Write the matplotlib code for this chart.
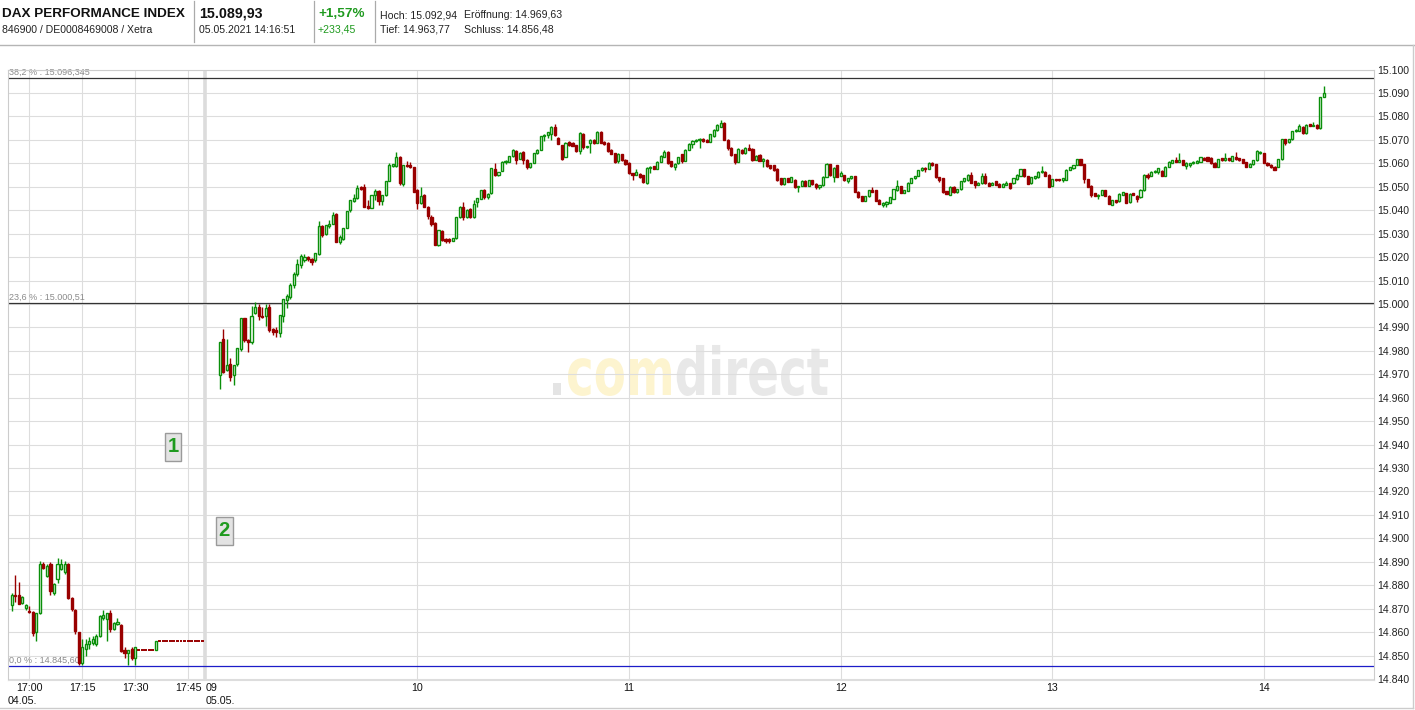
import matplotlib
matplotlib.use("Agg")
import matplotlib.pyplot as plt
import numpy as np
from matplotlib.patches import Rectangle, PathPatch
from matplotlib.textpath import TextPath, text_to_path
from matplotlib.font_manager import FontProperties
from matplotlib.transforms import Affine2D, blended_transform_factory
from matplotlib.lines import Line2D

plt.rcParams['font.family'] = ['Liberation Sans', 'DejaVu Sans']

# ---------------------------------------------------------------- data
# 04.05. : one-minute candles, minute relative to 17:00
d1_minute = list(range(-5, 50))
d1_open = [14871.5, 14876.0, 14876.0, 14872.5, 14870.5, 14869.0, 14868.5, 14860.0, 14868.0, 14889.0,
           14884.0, 14889.0, 14876.5, 14882.5, 14887.0, 14885.5, 14889.0, 14874.5, 14869.5, 14860.0,
           14847.0, 14853.0, 14855.0, 14855.5, 14855.0, 14858.5, 14866.0, 14865.5, 14868.0, 14861.5,
           14863.5, 14863.0, 14852.5, 14851.0, 14853.0, 14849.0,
           14852.3, 14852.3, 14852.3, 14852.3, 14852.3, 14852.3,
           14856.2, 14856.2, 14856.2, 14856.2, 14856.2, 14856.2, 14856.2, 14856.2, 14856.2, 14856.2,
           14856.2, 14856.2, 14856.2]
d1_high = [14876.5, 14884.5, 14881.5, 14875.2, 14872.2, 14871.0, 14869.0, 14868.2, 14890.5, 14890.0,
           14889.0, 14890.0, 14881.0, 14891.5, 14891.0, 14890.5, 14889.5, 14875.0, 14870.0, 14860.2,
           14857.0, 14857.0, 14858.0, 14858.5, 14859.0, 14867.5, 14869.5, 14868.2, 14869.5, 14864.2,
           14866.0, 14863.5, 14853.5, 14852.5, 14853.5, 14853.5,
           14852.3, 14852.3, 14852.3, 14852.3, 14852.3, 14856.2,
           14856.2, 14856.2, 14856.2, 14856.2, 14856.2, 14856.2, 14856.2, 14856.2, 14856.2, 14856.2,
           14856.2, 14856.2, 14856.2]
d1_low = [14869.0, 14873.0, 14871.8, 14872.0, 14869.4, 14868.0, 14858.3, 14856.0, 14867.8, 14887.0,
          14883.5, 14876.0, 14876.0, 14881.0, 14886.5, 14885.0, 14874.0, 14869.0, 14859.0, 14846.0,
          14846.0, 14850.0, 14853.0, 14854.5, 14854.0, 14858.0, 14865.0, 14856.0, 14860.0, 14861.0,
          14863.0, 14851.5, 14849.0, 14846.0, 14848.0, 14846.0,
          14852.3, 14852.3, 14852.3, 14852.3, 14852.3, 14852.3,
          14856.2, 14856.2, 14856.2, 14856.2, 14856.2, 14856.2, 14856.2, 14856.2, 14856.2, 14856.2,
          14856.2, 14856.2, 14856.2]
d1_close = [14876.0, 14875.5, 14872.0, 14875.0, 14871.5, 14868.5, 14859.5, 14868.0, 14889.0, 14887.5,
            14888.0, 14877.5, 14880.5, 14889.0, 14889.0, 14889.0, 14874.5, 14870.0, 14860.5, 14847.0,
            14853.5, 14855.0, 14856.0, 14857.0, 14858.5, 14867.0, 14867.5, 14868.0, 14861.5, 14864.0,
            14864.5, 14852.0, 14851.0, 14852.5, 14849.0, 14853.5,
            14852.3, 14852.3, 14852.3, 14852.3, 14852.3, 14856.2,
            14856.2, 14856.2, 14856.2, 14856.2, 14856.2, 14856.2, 14856.2, 14856.2, 14856.2, 14856.2,
            14856.2, 14856.2, 14856.2]

# 05.05. : one-minute candles from 09:04 to 14:17 (minute after 09:00)
d2_first_minute = 4
d2_open = [
    14969.6, 14985.0, 14972.0, 14974.3, 14969.6, 14974.3, 14981.0, 14993.9, 14984.6, 14983.9,
    14996.0, 14998.6, 14995.0, 14994.7, 14998.6, 14989.3, 14988.9, 14987.6, 14994.7, 15001.9,
    15003.0, 15008.0, 15013.0, 15016.5, 15018.6, 15020.0, 15019.0, 15018.6, 15021.4, 15033.1,
    15029.7, 15033.1, 15034.3, 15038.3, 15026.4, 15027.9, 15032.6, 15040.0, 15044.0, 15045.4,
    15049.7, 15049.7, 15041.7, 15041.1, 15046.4, 15048.3, 15044.0, 15046.4, 15052.6, 15059.0,
    15059.0, 15062.9, 15051.1, 15059.3, 15059.3, 15058.3, 15048.6, 15043.1, 15046.4, 15041.4,
    15037.1, 15034.6, 15025.0, 15031.1, 15027.9, 15027.9, 15027.0, 15028.1, 15037.1, 15041.4,
    15037.1, 15040.7, 15036.9, 15043.7, 15045.0, 15048.6, 15045.5, 15047.2, 15057.8, 15055.0,
    15056.8, 15060.6, 15060.6, 15063.0, 15065.2, 15062.0, 15064.9, 15061.6, 15058.5, 15060.2,
    15064.4, 15065.9, 15071.5, 15072.3, 15072.6, 15075.5, 15071.0, 15067.7, 15062.7, 15069.1,
    15068.7, 15067.7, 15065.3, 15072.6, 15067.0, 15068.7, 15070.0, 15068.7, 15073.4, 15069.1,
    15068.7, 15065.6, 15064.4, 15061.0, 15063.9, 15061.6, 15060.2, 15055.7, 15055.2, 15055.6,
    15055.0, 15051.7, 15058.2, 15058.8, 15057.8, 15060.6, 15062.7, 15064.9, 15061.0, 15058.5,
    15060.0, 15064.0, 15061.0, 15065.9, 15068.4, 15069.5, 15069.8, 15070.5, 15070.0, 15069.1,
    15071.5, 15074.3, 15075.5, 15077.3, 15070.0, 15066.7, 15063.9, 15060.6, 15065.9, 15064.4,
    15066.7, 15066.3, 15061.6, 15063.5, 15061.0, 15061.6, 15059.2, 15059.2, 15057.8, 15053.6,
    15051.1, 15053.6, 15052.1, 15053.1, 15049.7, 15050.4, 15052.5, 15050.4, 15052.9, 15051.4,
    15049.7, 15050.7, 15054.3, 15059.6, 15054.3, 15059.2, 15054.6, 15055.0, 15052.5, 15053.6,
    15054.6, 15047.9, 15046.0, 15044.0, 15046.0, 15048.6, 15048.6, 15044.4, 15042.2, 15042.7,
    15043.2, 15045.0, 15048.6, 15050.3, 15047.5, 15048.3, 15051.7, 15053.6, 15054.6, 15057.1,
    15058.2, 15057.8, 15060.2, 15059.6, 15054.0, 15053.7, 15048.0, 15046.6, 15050.1, 15047.6,
    15049.0, 15052.3, 15052.7, 15055.1, 15052.3, 15050.8, 15051.5, 15054.4, 15051.8, 15050.8,
    15052.3, 15051.3, 15050.1, 15050.8, 15051.5, 15051.5, 15053.2, 15054.6, 15057.5, 15054.6,
    15051.5, 15053.7, 15054.1, 15056.1, 15056.5, 15055.1, 15050.4, 15053.2, 15053.2, 15052.7,
    15053.0, 15057.2, 15058.0, 15059.3, 15061.7, 15059.7, 15053.2, 15050.4, 15047.3, 15046.2,
    15046.6, 15048.5, 15046.2, 15042.4, 15044.2, 15043.8, 15046.6, 15047.3, 15043.4, 15047.3,
    15046.2, 15045.5, 15048.5, 15055.1, 15054.6, 15056.1, 15056.5, 15056.9, 15054.6, 15058.6,
    15060.3, 15061.4, 15060.7, 15061.4, 15059.0, 15059.3, 15060.0, 15060.3, 15060.7, 15062.3,
    15062.6, 15062.3, 15060.3, 15058.6, 15062.1, 15061.4, 15062.1, 15061.1, 15062.6, 15062.1,
    15061.7, 15060.5, 15058.6, 15059.7, 15061.4, 15064.4, 15064.4, 15060.3, 15059.4, 15058.6,
    15058.6, 15061.7, 15070.3, 15068.9, 15070.3, 15073.6, 15074.0, 15075.7, 15072.9, 15076.7,
    15076.0, 15076.4, 15075.0, 15088.3]
d2_high = [
    14983.6, 14989.3, 14985.0, 14977.0, 14974.0, 14981.4, 14994.0, 14994.0, 14985.0, 14999.0,
    15000.7, 15000.0, 14998.6, 15000.0, 15000.0, 14989.6, 14990.0, 14995.3, 15002.1, 15004.1,
    15009.0, 15013.5, 15019.0, 15021.5, 15021.5, 15020.5, 15019.5, 15021.7, 15035.3, 15033.5,
    15033.6, 15036.0, 15039.3, 15039.0, 15029.3, 15032.6, 15039.7, 15044.3, 15047.0, 15050.7,
    15050.3, 15051.4, 15044.3, 15046.4, 15048.9, 15048.5, 15046.4, 15052.6, 15060.0, 15059.9,
    15065.0, 15063.0, 15059.3, 15061.0, 15060.7, 15058.6, 15049.0, 15050.0, 15047.1, 15041.6,
    15038.0, 15035.0, 15031.4, 15031.7, 15028.2, 15028.2, 15028.3, 15037.1, 15041.6, 15043.6,
    15040.5, 15041.0, 15044.3, 15045.3, 15048.8, 15049.0, 15047.5, 15058.2, 15060.0, 15056.5,
    15061.0, 15061.5, 15063.2, 15066.0, 15065.5, 15064.8, 15065.2, 15061.8, 15060.2, 15064.6,
    15066.1, 15071.8, 15072.5, 15073.5, 15075.8, 15076.9, 15071.3, 15068.0, 15068.9, 15069.5,
    15069.0, 15068.0, 15073.2, 15072.9, 15067.6, 15070.3, 15070.3, 15073.6, 15073.7, 15069.4,
    15069.0, 15066.3, 15064.6, 15064.5, 15064.1, 15061.8, 15060.4, 15055.9, 15057.8, 15055.8,
    15055.2, 15058.4, 15058.8, 15059.0, 15060.8, 15063.6, 15065.6, 15065.1, 15061.2, 15060.1,
    15062.7, 15064.2, 15066.1, 15068.6, 15070.0, 15070.3, 15070.8, 15070.8, 15070.2, 15072.6,
    15074.5, 15077.0, 15078.3, 15077.5, 15070.2, 15066.9, 15064.1, 15066.5, 15066.1, 15066.9,
    15068.4, 15066.5, 15063.4, 15064.2, 15062.2, 15061.8, 15059.4, 15059.4, 15058.0, 15053.8,
    15053.8, 15053.8, 15054.2, 15053.3, 15050.5, 15052.7, 15052.7, 15053.1, 15053.1, 15051.6,
    15050.9, 15054.5, 15060.3, 15059.8, 15058.4, 15059.4, 15056.6, 15055.2, 15053.8, 15054.8,
    15054.8, 15048.1, 15046.2, 15046.2, 15048.8, 15050.0, 15048.8, 15044.6, 15043.4, 15043.8,
    15045.7, 15049.1, 15053.0, 15050.5, 15048.8, 15051.9, 15053.8, 15054.8, 15057.3, 15058.4,
    15058.4, 15060.4, 15060.6, 15059.8, 15054.2, 15053.9, 15048.2, 15050.3, 15050.3, 15049.2,
    15052.5, 15053.9, 15055.3, 15056.5, 15052.5, 15052.0, 15055.8, 15055.8, 15052.0, 15052.0,
    15052.5, 15051.5, 15051.5, 15052.3, 15051.7, 15053.9, 15055.3, 15057.7, 15057.7, 15054.8,
    15054.3, 15054.6, 15056.7, 15058.7, 15056.7, 15055.3, 15053.4, 15053.4, 15053.4, 15053.9,
    15057.4, 15058.5, 15059.5, 15061.9, 15061.9, 15059.9, 15053.4, 15050.6, 15047.5, 15046.8,
    15048.7, 15048.7, 15046.4, 15044.4, 15044.4, 15047.2, 15047.8, 15047.5, 15047.2, 15047.5,
    15046.4, 15048.9, 15055.3, 15055.8, 15056.7, 15057.1, 15058.1, 15057.1, 15058.8, 15060.9,
    15061.6, 15062.5, 15064.3, 15061.6, 15060.5, 15060.3, 15061.0, 15061.4, 15062.9, 15062.5,
    15062.8, 15062.5, 15060.5, 15061.9, 15062.3, 15064.3, 15062.3, 15063.2, 15064.8, 15062.3,
    15061.9, 15060.7, 15060.0, 15061.6, 15065.5, 15065.2, 15064.6, 15060.5, 15059.6, 15058.8,
    15061.9, 15070.5, 15070.5, 15070.5, 15073.8, 15074.5, 15077.0, 15075.9, 15076.6, 15076.9,
    15077.7, 15076.6, 15088.5, 15092.9]
d2_low = [
    14963.8, 14970.5, 14971.5, 14967.0, 14965.3, 14973.5, 14980.0, 14983.6, 14979.6, 14983.0,
    14995.7, 14993.3, 14993.9, 14990.7, 14987.9, 14986.7, 14986.0, 14986.0, 14992.4, 14998.3,
    15002.0, 15007.0, 15012.0, 15015.5, 15018.0, 15018.5, 15016.5, 15018.0, 15021.0, 15028.6,
    15029.5, 15032.6, 15034.0, 15026.4, 15025.7, 15027.5, 15032.5, 15039.3, 15043.5, 15045.0,
    15048.6, 15041.4, 15040.7, 15041.0, 15044.3, 15042.1, 15042.4, 15046.0, 15052.4, 15058.6,
    15058.6, 15050.7, 15050.3, 15058.6, 15058.0, 15047.9, 15040.7, 15042.8, 15041.4, 15036.4,
    15033.4, 15025.0, 15024.6, 15026.9, 15026.0, 15026.0, 15026.7, 15027.8, 15036.8, 15036.0,
    15036.8, 15036.6, 15036.6, 15041.2, 15044.8, 15045.0, 15045.0, 15047.0, 15054.6, 15054.7,
    15056.6, 15059.8, 15060.4, 15062.8, 15059.8, 15061.7, 15059.8, 15057.8, 15058.0, 15060.0,
    15064.2, 15065.6, 15069.4, 15071.0, 15069.8, 15071.7, 15068.2, 15061.3, 15062.5, 15067.5,
    15067.2, 15065.0, 15064.2, 15066.3, 15066.6, 15064.5, 15068.4, 15068.5, 15068.5, 15068.0,
    15065.0, 15064.0, 15060.3, 15060.2, 15061.0, 15059.4, 15055.4, 15053.0, 15055.0, 15053.8,
    15051.8, 15051.3, 15056.0, 15057.4, 15057.6, 15060.4, 15062.5, 15059.8, 15058.6, 15057.2,
    15059.8, 15060.0, 15060.8, 15065.7, 15066.5, 15069.0, 15066.5, 15069.2, 15068.9, 15068.9,
    15071.2, 15074.0, 15075.3, 15070.0, 15065.9, 15063.3, 15059.9, 15060.4, 15064.2, 15064.2,
    15065.7, 15061.1, 15061.4, 15060.8, 15058.5, 15058.6, 15057.6, 15056.9, 15052.6, 15050.9,
    15050.9, 15051.9, 15051.9, 15049.5, 15047.8, 15050.2, 15050.2, 15050.2, 15050.9, 15049.0,
    15049.0, 15050.5, 15054.1, 15054.8, 15052.0, 15054.1, 15054.4, 15052.6, 15051.6, 15053.4,
    15047.7, 15045.3, 15043.8, 15043.8, 15045.8, 15047.7, 15043.8, 15042.5, 15041.5, 15041.5,
    15043.0, 15044.8, 15048.4, 15047.3, 15047.3, 15048.1, 15051.5, 15053.4, 15054.4, 15056.9,
    15056.2, 15057.6, 15059.0, 15053.8, 15052.0, 15047.4, 15046.8, 15046.4, 15047.4, 15047.4,
    15048.8, 15052.1, 15052.5, 15051.6, 15049.4, 15050.6, 15051.3, 15051.3, 15050.2, 15050.6,
    15050.6, 15049.9, 15049.9, 15050.6, 15049.2, 15051.3, 15053.0, 15054.4, 15054.2, 15051.1,
    15051.3, 15053.5, 15053.9, 15055.9, 15054.4, 15049.9, 15050.2, 15052.5, 15052.5, 15052.1,
    15052.8, 15057.0, 15057.8, 15059.1, 15059.1, 15051.8, 15049.9, 15045.6, 15046.0, 15044.8,
    15046.4, 15046.0, 15042.6, 15042.2, 15043.2, 15043.6, 15046.4, 15042.9, 15043.2, 15046.4,
    15043.4, 15045.3, 15048.3, 15053.4, 15054.4, 15055.9, 15055.5, 15054.4, 15054.4, 15058.4,
    15060.1, 15060.5, 15060.5, 15059.1, 15057.5, 15058.3, 15059.8, 15060.1, 15060.5, 15061.4,
    15060.9, 15059.7, 15058.3, 15058.4, 15061.1, 15061.2, 15061.1, 15060.9, 15061.5, 15061.1,
    15060.0, 15058.3, 15058.4, 15059.5, 15061.2, 15064.2, 15060.1, 15059.0, 15058.1, 15057.0,
    15058.4, 15061.5, 15068.0, 15068.7, 15070.1, 15073.4, 15073.8, 15072.7, 15072.7, 15075.8,
    15075.8, 15074.6, 15074.6, 15088.1]
d2_close = [
    14983.6, 14971.0, 14974.0, 14969.0, 14973.9, 14981.4, 14993.9, 14984.7, 14983.6, 14994.7,
    14998.6, 14994.7, 14994.3, 14998.3, 14989.0, 14988.1, 14988.1, 14995.3, 15002.1, 15003.3,
    15008.0, 15013.0, 15017.0, 15020.5, 15020.0, 15019.0, 15018.0, 15021.7, 15033.1, 15029.3,
    15033.6, 15034.3, 15037.9, 15026.4, 15028.6, 15032.6, 15039.7, 15044.3, 15045.4, 15049.3,
    15048.9, 15041.4, 15041.0, 15046.4, 15048.3, 15044.0, 15046.4, 15052.6, 15059.3, 15059.7,
    15062.9, 15051.7, 15059.3, 15058.9, 15058.3, 15047.9, 15043.1, 15046.0, 15041.4, 15037.4,
    15034.3, 15025.0, 15031.4, 15027.4, 15026.9, 15026.9, 15028.0, 15037.1, 15041.4, 15037.1,
    15040.3, 15036.9, 15042.6, 15045.1, 15048.6, 15045.5, 15047.0, 15058.2, 15055.0, 15056.2,
    15060.6, 15061.2, 15063.0, 15065.6, 15061.3, 15064.4, 15061.6, 15058.5, 15060.0, 15064.4,
    15065.9, 15071.5, 15072.3, 15073.3, 15075.5, 15071.9, 15068.4, 15062.0, 15068.7, 15067.7,
    15067.4, 15065.3, 15072.9, 15067.0, 15067.4, 15070.1, 15068.7, 15073.4, 15068.7, 15068.4,
    15065.3, 15064.2, 15060.6, 15063.9, 15061.3, 15059.6, 15055.7, 15055.0, 15056.3, 15054.0,
    15052.1, 15058.2, 15058.5, 15057.6, 15060.6, 15063.0, 15064.9, 15060.2, 15058.8, 15059.9,
    15062.5, 15061.0, 15065.9, 15068.4, 15069.5, 15069.8, 15070.5, 15069.5, 15069.1, 15072.4,
    15074.3, 15076.2, 15077.3, 15070.0, 15066.7, 15063.5, 15060.6, 15066.3, 15064.4, 15066.7,
    15065.9, 15061.3, 15063.2, 15061.0, 15062.0, 15058.8, 15058.2, 15057.1, 15052.8, 15051.1,
    15053.6, 15052.1, 15054.0, 15049.7, 15050.3, 15052.5, 15050.4, 15052.9, 15051.1, 15049.7,
    15050.7, 15054.3, 15059.6, 15055.0, 15058.2, 15054.3, 15055.7, 15052.8, 15053.6, 15054.6,
    15047.9, 15045.5, 15044.0, 15046.0, 15048.6, 15047.9, 15044.0, 15042.7, 15043.0, 15043.6,
    15045.5, 15048.9, 15050.3, 15047.5, 15048.6, 15051.7, 15053.6, 15054.6, 15057.1, 15058.2,
    15057.8, 15060.2, 15059.2, 15054.0, 15053.0, 15047.6, 15047.0, 15050.1, 15047.6, 15049.0,
    15052.3, 15053.7, 15055.1, 15051.8, 15050.8, 15051.8, 15054.4, 15051.5, 15050.4, 15051.8,
    15050.8, 15050.1, 15051.3, 15051.8, 15049.4, 15053.7, 15055.1, 15057.5, 15054.4, 15051.3,
    15054.1, 15054.4, 15056.5, 15056.9, 15054.6, 15050.1, 15053.2, 15052.7, 15052.7, 15053.7,
    15057.2, 15058.3, 15059.3, 15061.7, 15059.3, 15053.2, 15050.1, 15046.6, 15046.2, 15046.6,
    15048.5, 15046.2, 15042.8, 15044.2, 15043.4, 15047.0, 15047.6, 15043.1, 15047.0, 15046.6,
    15044.8, 15048.7, 15055.1, 15054.1, 15056.5, 15056.9, 15057.9, 15054.6, 15058.6, 15060.7,
    15061.4, 15060.7, 15061.4, 15059.3, 15060.0, 15060.3, 15060.7, 15061.1, 15062.6, 15061.6,
    15061.1, 15060.0, 15058.6, 15061.7, 15061.4, 15062.1, 15061.4, 15063.0, 15061.7, 15061.4,
    15060.3, 15058.6, 15059.7, 15061.4, 15065.3, 15065.0, 15060.3, 15059.1, 15058.4, 15057.1,
    15061.7, 15070.3, 15068.6, 15070.3, 15073.6, 15074.3, 15075.9, 15072.9, 15076.4, 15076.0,
    15076.4, 15075.0, 15088.3, 15089.9]

y_ticks = list(range(14840, 15101, 10))
fib_levels = [15096.345, 15000.51, 14845.60]
fib_labels = ["38,2 % : 15.096,345", "23,6 % : 15.000,51", "0,0 % : 14.845,60"]
d1_tick_minutes = [0, 15, 30, 45]
d1_tick_labels = ["17:00", "17:15", "17:30", "17:45"]
d2_tick_hours = [10, 11, 12, 13, 14]

# ---------------------------------------------------------------- layout
W, H = 1415, 710
GREEN = '#0a8f0a'
RED = '#990000'
GRID = '#dddddd'

fig = plt.figure(figsize=(W / 100, H / 100), dpi=100)
fig.patch.set_facecolor('white')
ax_l, ax_r, ax_t, ax_b = 8, 1374, 69.6, 680
ax = fig.add_axes([ax_l / W, (H - ax_b) / H, (ax_r - ax_l) / W, (ax_b - ax_t) / H])

DAY2_OFFSET = 50          # 09:00 of 05.05. sits right after 17:50 of 04.05.
x1 = np.array(d1_minute, float)
x2 = DAY2_OFFSET + d2_first_minute + np.arange(len(d2_open), dtype=float)

ax.set_xlim(-6.04, 381.2)
ax.set_ylim(14839.57, 15100.0)
ax.set_axisbelow(True)

# grid
ax.set_yticks(y_ticks)
ax.set_yticklabels([f"{v:,}".replace(",", ".") for v in y_ticks])
ax.yaxis.tick_right()
ax.tick_params(axis='y', length=0, pad=2.2, labelsize=7.6, labelcolor='#222222')
grid_x = d1_tick_minutes + [DAY2_OFFSET + 60 * (h - 9) for h in d2_tick_hours]
ax.set_xticks(grid_x)
ax.set_xticklabels([])
ax.tick_params(axis='x', length=0)
ax.grid(True, color=GRID, lw=0.8)
for side in ['left', 'right', 'top', 'bottom']:
    ax.spines[side].set_color('#cccccc')
    ax.spines[side].set_linewidth(0.8)
ax.spines['bottom'].set_color(GRID)

# session separator
ax.axvline(DAY2_OFFSET - 0.2, color='#dcdcdc', lw=2.6, zorder=1)

# fibonacci lines
fib_colors = ['#333333', '#333333', '#1c1cc8']
for lvl, lab, col in zip(fib_levels, fib_labels, fib_colors):
    ax.axhline(lvl, color=col, lw=0.9, zorder=2)
    ax.annotate(lab, xy=(0, lvl), xycoords=('axes fraction', 'data'),
                xytext=(1.0, 1.0), textcoords='offset points',
                ha='left', va='bottom', fontsize=6.5, color='#8a8a8a', zorder=2)


def draw_candles(x, o, h, l, c):
    o, h, l, c = (np.asarray(v, float) for v in (o, h, l, c))
    up = c > o
    flat = (h == l)
    cols = np.where(up, GREEN, RED)
    ax.vlines(x[~flat], l[~flat], h[~flat], colors=cols[~flat], lw=1.0, zorder=3)
    bottom = np.minimum(o, c)
    height = np.abs(c - o)
    dn = ~up & ~flat
    ax.bar(x[up], height[up], bottom=bottom[up], width=0.6, facecolor='white',
           edgecolor=GREEN, linewidth=1.0, zorder=4)
    ax.bar(x[dn], height[dn], bottom=bottom[dn], width=0.6, facecolor=RED,
           edgecolor=RED, linewidth=1.0, zorder=4)
    # flat candles (no trading): short thick dashes
    ax.hlines(c[flat], x[flat] - 0.42, x[flat] + 0.42, colors=RED, lw=1.4, zorder=4)


draw_candles(x1, d1_open, d1_high, d1_low, d1_close)
draw_candles(x2, d2_open, d2_high, d2_low, d2_close)

# x labels
def ay(ypx):
    return (ax_b - ypx) / (ax_b - ax_t)

tr = blended_transform_factory(ax.transData, ax.transAxes)
for m, lab in zip(d1_tick_minutes, d1_tick_labels):
    ax.text(m, ay(688), lab, transform=tr, ha='center', va='center', fontsize=7.7, color='#111111')
ax.text(DAY2_OFFSET + 0.1, ay(688), "09", transform=tr, ha='left', va='center', fontsize=7.7, color='#111111')
for hh in d2_tick_hours:
    ax.text(DAY2_OFFSET + 60 * (hh - 9), ay(688), f"{hh}", transform=tr, ha='center', va='center',
            fontsize=7.7, color='#111111')
ax.text(-0.2 / 366, ay(701), "04.05.", transform=ax.transAxes, ha='left', va='center', fontsize=7.7, color='#111111')
ax.text(DAY2_OFFSET, ay(701), "05.05.", transform=tr, ha='left', va='center', fontsize=7.7, color='#111111')

# watermark .comdirect
fp = FontProperties(family='DejaVu Sans', weight='bold', size=1)
full = TextPath((0, 0), ".comdirect", size=1, prop=fp)
ext = full.get_extents()
xh = TextPath((0, 0), "x", size=1, prop=fp).get_extents().y1
sx = (828 - 553) / ext.width
sy = 36 / xh
xo = 0.0
for s, col in [(".", '#e4e4e4'), ("com", '#fdf4cf'), ("direct", '#e8e8e8')]:
    tp = TextPath((xo, 0), s, size=1, prop=fp)
    trf = Affine2D().translate(-ext.x0, 0).scale(sx, sy).translate(553, H - 395)
    ax.add_patch(PathPatch(tp, facecolor=col, edgecolor='none', transform=trf, zorder=0.2, clip_on=False))
    w, _, _ = text_to_path.get_text_width_height_descent(s, fp, ismath=False)
    xo += w

# numbered markers
def fbox(x0, y0, x1_, y1_, label):
    fig.add_artist(Rectangle((x0 / W, 1 - y1_ / H), (x1_ - x0) / W, (y1_ - y0) / H,
                             transform=fig.transFigure, facecolor='#e3e3e3', edgecolor='#9a9a9a', lw=1.0, zorder=5))
    fig.text((x0 + x1_) / 2 / W, 1 - (y0 + y1_) / 2 / H, label, ha='center', va='center',
             fontsize=14.5, fontweight='bold', color='#1f9a1f', zorder=6)

fbox(165, 432.5, 181.5, 460.5, "1")
fbox(216, 516.5, 232.5, 544.5, "2")

# header
def ftext(x, y, s, **kw):
    kw.setdefault('va', 'center')
    kw.setdefault('ha', 'left')
    fig.text(x / W, 1 - y / H, s, **kw)

ftext(2, 14, "DAX PERFORMANCE INDEX", fontsize=9.7, fontweight='bold', color='#111111')
ftext(2, 30, "846900 / DE0008469008 / Xetra", fontsize=7.6, color='#222222')
ftext(199, 14, "15.089,93", fontsize=10.3, fontweight='bold', color='#111111')
ftext(199, 30, "05.05.2021 14:16:51", fontsize=7.6, color='#222222')
ftext(318, 14, "+1,57%", fontsize=9.7, fontweight='bold', color='#1f9a1f')
ftext(318, 30, "+233,45", fontsize=7.6, color='#1f9a1f')
ftext(380, 15, "Hoch: 15.092,94", fontsize=7.6, color='#222222')
ftext(464, 15, "Eröffnung: 14.969,63", fontsize=7.6, color='#222222')
ftext(380, 30, "Tief: 14.963,77", fontsize=7.6, color='#222222')
ftext(464, 30, "Schluss: 14.856,48", fontsize=7.6, color='#222222')

for xs in [194, 314, 375]:
    fig.add_artist(Line2D([xs / W, xs / W], [1 - 1 / H, 1 - 42 / H], color='#aaaaaa', lw=0.9))
fig.add_artist(Line2D([0, 1], [1 - 44.5 / H, 1 - 44.5 / H], color='#b5b5b5', lw=1.0))
fig.add_artist(Line2D([0, 1413 / W], [1 - 707.5 / H, 1 - 707.5 / H], color='#cccccc', lw=1.0))
fig.add_artist(Line2D([1413 / W, 1413 / W], [1 - 45 / H, 1 - 707.5 / H], color='#cccccc', lw=1.0))

fig.savefig('out.png', dpi=100, facecolor='white')
